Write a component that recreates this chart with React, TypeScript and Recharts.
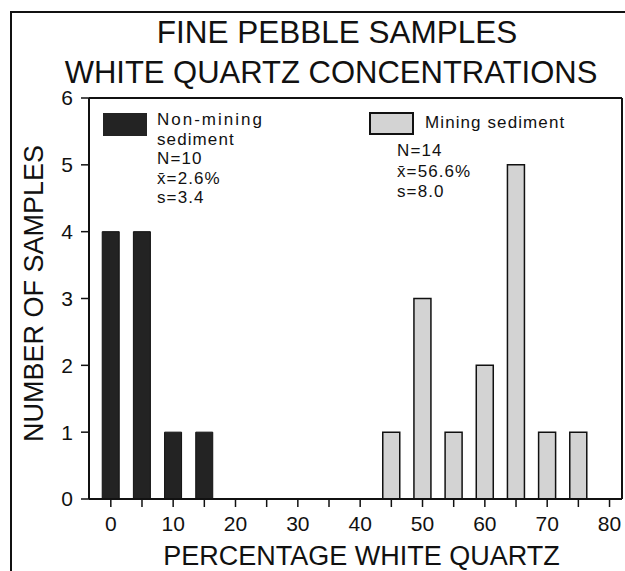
import { Bar, BarChart, Legend, ReferenceLine, XAxis, YAxis } from "recharts";

// bins of % white quartz (bar centres)
const pctBins = [0, 5, 10, 15, 45, 50, 55, 60, 65, 70, 75];
const nonMining = [4, 4, 1, 1, 0, 0, 0, 0, 0, 0, 0];
const mining = [0, 0, 0, 0, 1, 3, 1, 2, 5, 1, 1];

const xTicks = [0, 5, 10, 15, 20, 25, 30, 35, 40, 45, 50, 55, 60, 65, 70, 75, 80];
const yTicks = [0, 1, 2, 3, 4, 5, 6];

const titleLines = ["FINE PEBBLE SAMPLES", "WHITE QUARTZ CONCENTRATIONS"];
const nonMiningLabel = ["Non-mining", "sediment"];
const nonMiningStats = ["N=10", "x\u0304=2.6%", "s=3.4"];
const miningLabel = "Mining sediment";
const miningStats = ["N=14", "x\u0304=56.6%", "s=8.0"];

const FONT = '"Liberation Sans", Arial, sans-serif';
const INK = "#111";
const DARK = "#232323";
const LIGHT = "#d3d3d3";

const data = pctBins.map((pct, i) => ({ pct, nonMining: nonMining[i], mining: mining[i] }));

function XTick({ x, y, payload }: any) {
  if (payload.value % 10 !== 0) return null;
  return (
    <text x={x} y={y} dy={22} textAnchor="middle" fontSize={21} fontFamily={FONT} fill={INK}>
      {payload.value}
    </text>
  );
}

function XTitle({ viewBox }: any) {
  const { x, y, width } = viewBox;
  return (
    <text x={x + width / 2 + 6} y={y + 66} textAnchor="middle" fontSize={27} fontFamily={FONT} fill={INK}>
      PERCENTAGE WHITE QUARTZ
    </text>
  );
}

function YTitle({ viewBox }: any) {
  const { y, height } = viewBox;
  const cx = 43;
  const cy = y + height / 2 - 5;
  return (
    <text
      x={cx}
      y={cy}
      transform={`rotate(-90, ${cx}, ${cy})`}
      textAnchor="middle"
      fontSize={27}
      fontFamily={FONT}
      fill={INK}
    >
      NUMBER OF SAMPLES
    </text>
  );
}

function KeyPanel() {
  const t = { fontSize: 17, fontFamily: FONT, fill: INK, letterSpacing: 1.1 };
  return (
    <svg
      width={625}
      height={571}
      style={{ position: "absolute", left: 0, top: 0, overflow: "visible", pointerEvents: "none" }}
    >
      <rect x={103} y={113} width={44} height={23} fill={DARK} />
      <text x={157} y={125} {...t} letterSpacing={2}>{nonMiningLabel[0]}</text>
      <text x={157} y={144.5} {...t}>{nonMiningLabel[1]}</text>
      {nonMiningStats.map((s, i) => (
        <text key={s} x={157} y={164 + i * 19.5} {...t}>{s}</text>
      ))}
      <rect x={370} y={113} width={43} height={21} fill={LIGHT} stroke={INK} strokeWidth={2} />
      <text x={425} y={128} {...t}>{miningLabel}</text>
      {miningStats.map((s, i) => (
        <text key={s} x={397} y={156 + i * 20.5} {...t}>{s}</text>
      ))}
    </svg>
  );
}

export default function App() {
  return (
    <div style={{ position: "absolute", left: 0, top: 0, width: 625, height: 571, background: "#fff" }}>
      <div
        style={{
          position: "absolute",
          left: 10,
          top: 11,
          width: 615,
          height: 560,
          borderLeft: `2px solid ${INK}`,
          borderTop: `2px solid ${INK}`,
        }}
      />
      <svg width={625} height={100} style={{ position: "absolute", left: 0, top: 0 }}>
        <text x={337} y={42.5} textAnchor="middle" fontSize={31.5} fontFamily={FONT} fill={INK}>
          {titleLines[0]}
        </text>
        <text x={331} y={82.5} textAnchor="middle" fontSize={31} fontFamily={FONT} fill={INK}>
          {titleLines[1]}
        </text>
      </svg>
      <div style={{ position: "absolute", left: 0, top: 0 }}>
        <BarChart width={625} height={571} data={data} margin={{ top: 98, right: 3, left: 0, bottom: 0 }}>
          <XAxis
            type="number"
            dataKey="pct"
            domain={[-3.5, 82]}
            allowDataOverflow
            ticks={xTicks}
            interval={0}
            tick={<XTick />}
            tickSize={8}
            height={72}
            axisLine={{ stroke: INK, strokeWidth: 2 }}
            tickLine={{ stroke: INK, strokeWidth: 1.5 }}
            label={<XTitle />}
          />
          <YAxis
            type="number"
            domain={[0, 6]}
            ticks={yTicks}
            interval={0}
            width={89}
            tickSize={8}
            tickMargin={8}
            tick={{ fontSize: 21, fill: INK, fontFamily: FONT }}
            axisLine={{ stroke: INK, strokeWidth: 2 }}
            tickLine={{ stroke: INK, strokeWidth: 1.5 }}
            label={<YTitle />}
          />
          <ReferenceLine y={6} stroke={INK} strokeWidth={2} />
          <ReferenceLine x={82} stroke={INK} strokeWidth={2} />
          <Legend
            verticalAlign="top"
            align="left"
            wrapperStyle={{ left: 0, top: 0, width: 625, height: 0 }}
            content={() => <KeyPanel />}
          />
          <Bar
            dataKey="nonMining"
            name="Non-mining sediment"
            stackId="q"
            fill={DARK}
            stroke={INK}
            strokeWidth={1}
            barSize={17}
            isAnimationActive={false}
          />
          <Bar
            dataKey="mining"
            name="Mining sediment"
            stackId="q"
            fill={LIGHT}
            stroke={INK}
            strokeWidth={1.5}
            barSize={17}
            isAnimationActive={false}
          />
        </BarChart>
      </div>
    </div>
  );
}
